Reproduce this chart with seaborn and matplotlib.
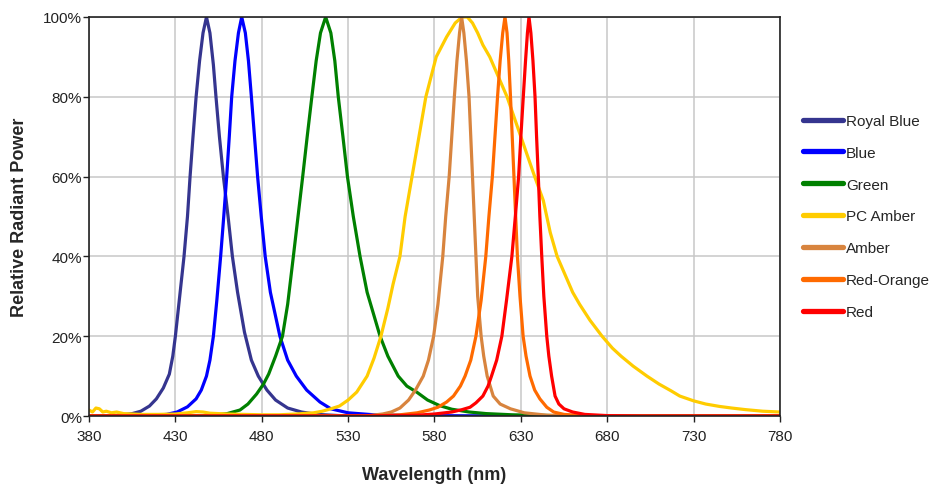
import pandas as pd
import matplotlib.pyplot as plt
import seaborn as sns
from matplotlib.ticker import PercentFormatter, MultipleLocator

sns.set_style('whitegrid')
plt.rcParams['font.family'] = ['Liberation Sans', 'DejaVu Sans']

# -----------------------------
# Spectra (wavelength nm, relative power %)
series_names = ['Royal Blue', 'Blue', 'Green', 'PC Amber', 'Amber', 'Red-Orange', 'Red']
series_colors = ['#35358f', '#0000ff', '#008000', '#ffcc00', '#d8843e', '#ff6a00', '#ff0000']

royal_blue_nm = [380, 395, 405, 410, 415, 419, 423, 426.5, 428.5, 430, 432.5, 435, 437, 438.5, 440.2,
                 442, 444, 446, 448, 450, 452, 453.5, 455.5, 457.8, 460.5, 463, 466, 470, 474, 478,
                 483, 488, 495, 503, 512, 525, 545, 780]
royal_blue_pw = [0, 0.1, 0.6, 1.2, 2.5, 4.3, 7, 10.5, 15, 20, 30, 40, 50, 60, 70,
                 80, 89, 96, 100, 96, 88, 80, 70, 60, 50, 40, 31, 21, 14, 10,
                 6.5, 4, 2, 1, 0.4, 0.1, 0, 0]

blue_nm = [380, 415, 425, 431, 437, 442, 445, 448, 450, 452, 454, 456.2, 458, 459.7, 461.2, 462.6,
           464.5, 466.5, 468.4, 470.5, 472.3, 474, 475.8, 477.6, 479.7, 482, 485, 490.5, 495, 500,
           506, 513.7, 520, 530, 545, 570, 600, 780]
blue_pw = [0, 0.1, 0.4, 1, 2.3, 4.3, 6.5, 10, 14, 20, 29, 40, 50, 60, 70, 80,
           89, 96, 100, 96, 89, 80, 70, 60, 50, 40, 31, 20, 14, 10,
           6.5, 3.5, 1.8, 0.8, 0.3, 0.1, 0, 0]

green_nm = [380, 450, 460, 467.4, 472, 477, 481, 484, 488, 492, 495, 498.3, 501, 503.7, 506.3, 509,
            511.5, 514, 517, 520, 522.3, 524.3, 527, 529.6, 533, 536.9, 541, 548.5, 553, 559,
            564, 570, 576, 583, 590, 600, 610, 625, 650, 680, 780]
green_pw = [0, 0.1, 0.6, 1.5, 3, 5.5, 8, 10.5, 15, 20, 28, 40, 50, 60, 70, 80,
            89, 96, 100, 96, 89, 80, 70, 60, 50, 40, 31, 20, 15, 10,
            7.5, 5.9, 4, 2.6, 1.7, 1, 0.6, 0.3, 0.1, 0, 0]

pc_amber_nm = [380, 382, 384, 386, 388, 390, 393, 396, 400, 405, 410, 420, 430, 437, 442, 446,
               450, 455, 460, 470, 480, 490, 500, 510, 515, 520, 525, 530, 535, 541, 545, 549,
               553, 556, 560, 563, 567, 571, 575, 581, 587, 592, 596, 599, 602, 605, 608, 612,
               615, 618, 622, 626, 630, 634, 638, 643, 647, 651, 656, 660, 664, 670, 677, 683,
               688, 695, 703, 710, 717, 722, 730, 737, 745, 752, 760, 770, 780]
pc_amber_pw = [1.5, 1, 2, 1.8, 1, 1.2, 0.8, 1, 0.6, 0.5, 0.4, 0.4, 0.5, 0.8, 1.1, 1,
               0.7, 0.6, 0.5, 0.4, 0.3, 0.3, 0.5, 0.8, 1.2, 1.8, 2.5, 4, 6, 10, 14.5, 20,
               27, 33, 40, 50, 60, 70, 80, 90, 95, 98.5, 100, 100, 98.5, 96, 93, 90,
               87, 84, 80, 75, 70, 65, 60, 54, 46, 40, 35, 31, 28, 24, 20, 17,
               15, 12.5, 10, 8, 6.3, 5, 3.8, 3, 2.4, 2, 1.6, 1.2, 1]

amber_nm = [380, 540, 550, 555, 560, 565, 569, 573.5, 576.5, 579.5, 582, 584.8, 586.5, 588.5, 590,
            591.5, 593, 594.5, 595.7, 597, 598.5, 600, 601, 602, 603, 604, 605, 607, 608.5,
            610.5, 614, 618, 624, 632, 645, 660, 780]
amber_pw = [0, 0, 0.5, 1, 2, 4, 6.5, 10, 14, 20, 28, 40, 50, 60, 70,
            80, 89, 96, 100, 96, 89, 80, 70, 60, 50, 40, 30, 20, 15,
            10, 5, 3, 1.8, 0.8, 0.2, 0, 0]

red_orange_nm = [380, 540, 560, 570, 577, 582, 587, 591, 595, 597.7, 601, 604, 607, 609.7, 611.5,
                 613.5, 615, 616.5, 618, 619.5, 620.8, 622, 623, 624, 625, 626, 627, 628, 629.5,
                 631.3, 633, 635.3, 638, 641, 645, 649, 655, 670, 780]
red_orange_pw = [0, 0, 0.3, 0.8, 1.5, 2.2, 3.5, 5, 7.5, 10, 14, 20, 29, 40, 50,
                 60, 70, 80, 89, 96, 100, 96, 89, 80, 70, 60, 50, 40, 30,
                 20, 15, 10, 6.5, 4.3, 2.2, 1, 0.4, 0, 0]

red_nm = [380, 540, 570, 580, 590, 596, 600.6, 604, 608, 611, 613, 616, 619, 621.7, 624.8, 626.8,
          628.7, 630, 631.4, 632.7, 633.8, 634.7, 635.8, 637, 638.2, 639.1, 640.1, 641, 642.1,
          643.3, 645, 646.2, 647.8, 649.8, 652, 655, 660, 667, 680, 700, 780]
red_pw = [0, 0, 0.2, 0.5, 1, 1.6, 2.2, 3.3, 5, 7.5, 10, 14, 20, 29, 40, 50,
          60, 70, 80, 89, 96, 100, 96, 89, 80, 70, 60, 50, 40,
          30, 20, 15, 10, 5, 3, 1.8, 1, 0.4, 0.1, 0, 0]

x_ticks = [380, 430, 480, 530, 580, 630, 680, 730, 780]

all_nm = [royal_blue_nm, blue_nm, green_nm, pc_amber_nm, amber_nm, red_orange_nm, red_nm]
all_pw = [royal_blue_pw, blue_pw, green_pw, pc_amber_pw, amber_pw, red_orange_pw, red_pw]

frames = []
for name, nm, pw in zip(series_names, all_nm, all_pw):
    frames.append(pd.DataFrame({'nm': nm, 'power': pw, 'series': name}))
df = pd.concat(frames, ignore_index=True)

# -----------------------------
fig = plt.figure(figsize=(9.36, 4.85), dpi=100)
ax = fig.add_axes([0.0951, 0.1402, 0.7382, 0.8227])

sns.lineplot(data=df, x='nm', y='power', hue='series', hue_order=series_names,
             palette=dict(zip(series_names, series_colors)), estimator=None, sort=False,
             linewidth=2.3, ax=ax)

ax.set_xlim(380, 780)
ax.set_ylim(0, 100)
ax.set_xticks(x_ticks)
ax.yaxis.set_major_locator(MultipleLocator(20))
ax.yaxis.set_major_formatter(PercentFormatter(xmax=100, decimals=0))
ax.grid(True, color='#c8c8c8', linewidth=1.1)
for s in ax.spines.values():
    s.set_color('#222222')
    s.set_linewidth(1.2)
ax.tick_params(axis='both', which='major', labelsize=11, length=4, width=1,
               color='#222222', labelcolor='#222222', direction='out',
               bottom=True, left=True)
ax.tick_params(axis='x', pad=5)
ax.tick_params(axis='y', pad=1)

ax.set_xlabel('Wavelength (nm)', fontsize=13, fontweight='bold', labelpad=17)
ax.set_ylabel('Relative Radiant Power', fontsize=13, fontweight='bold', labelpad=11)

handles, labels = ax.get_legend_handles_labels()
leg = ax.legend(handles, labels, loc='center left', bbox_to_anchor=(1.014, 0.5),
                frameon=False, fontsize=11, handlelength=2.6, handletextpad=0.2,
                labelspacing=1.17)
for h in leg.legend_handles:
    h.set_linewidth(3.8)

plt.savefig('out.png', dpi=100)
plt.close()
